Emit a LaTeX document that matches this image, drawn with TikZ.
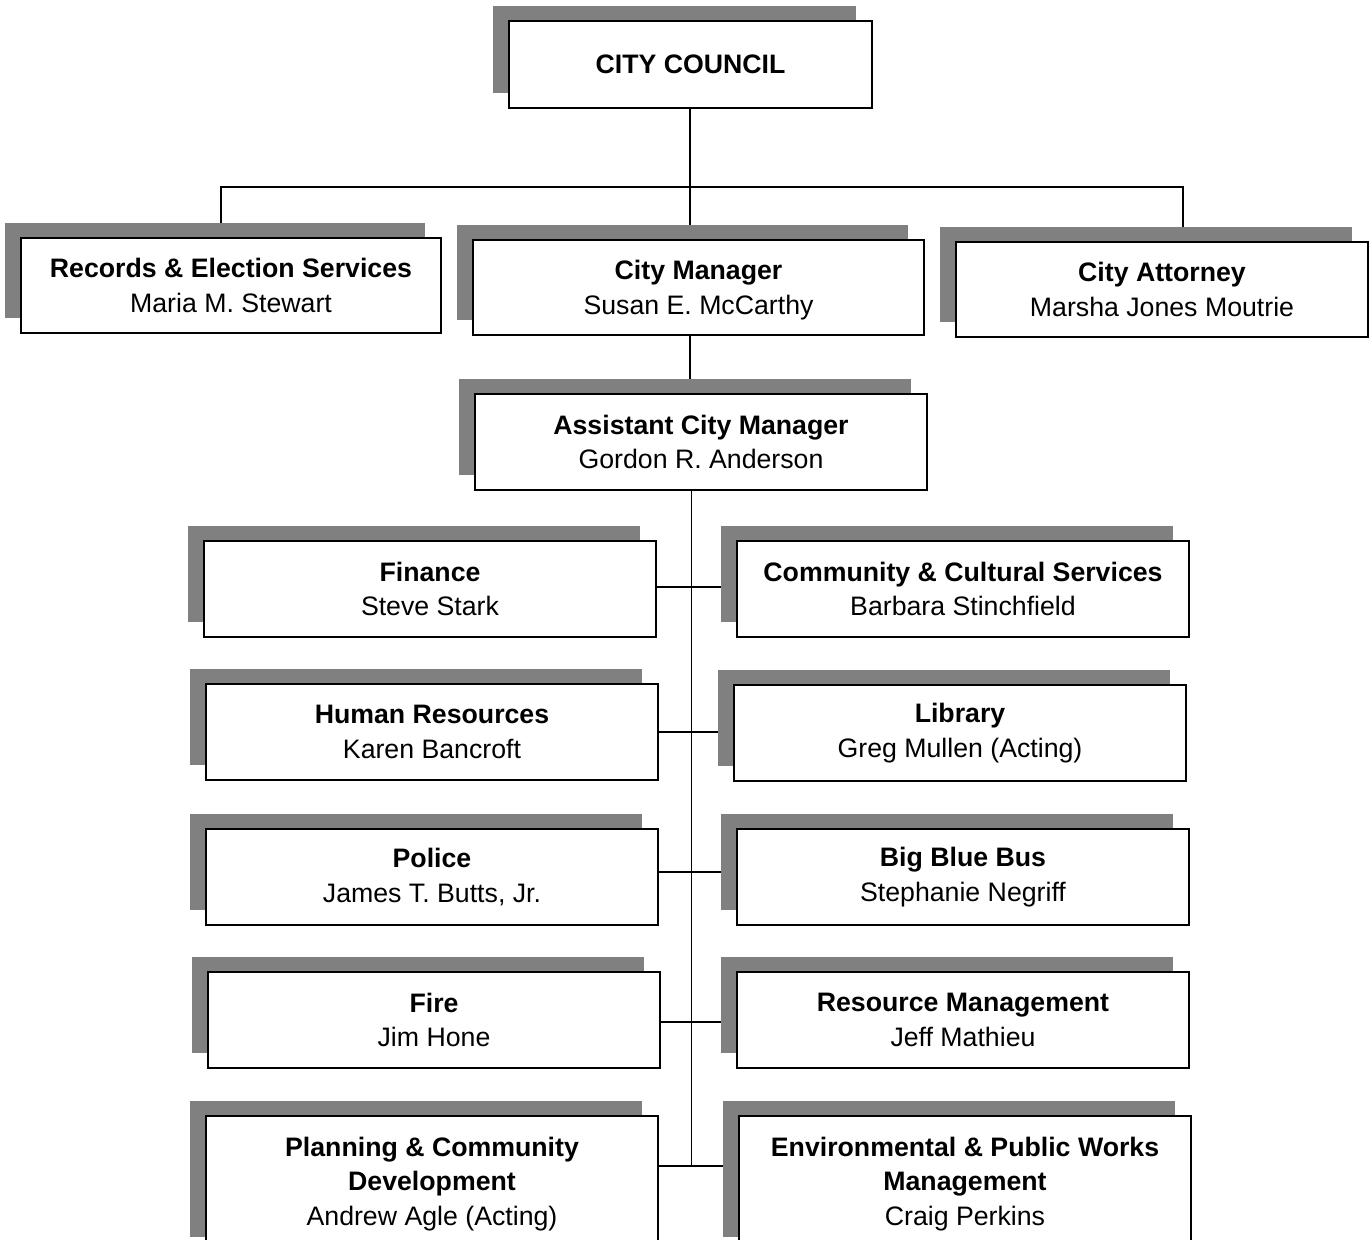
\documentclass[tikz,border=0pt]{standalone}
\usepackage{fontspec}
\setmainfont{Liberation Sans}
\usetikzlibrary{shadows,backgrounds}
\definecolor{shade}{RGB}{128,128,128}
\newcommand\nodepth[1]{\raisebox{0pt}[\height][0pt]{#1}}
\begin{document}
\begin{tikzpicture}[x=1pt,y=-1pt]
    \tikzset{
        unit/.style={draw, line width=1.6pt, fill=white, inner sep=0pt, align=center,
            minimum width=452pt, minimum height=96pt,
            font=\fontsize{26.7}{34.5}\selectfont,
            drop shadow={shadow xshift=-16pt, shadow yshift=15pt, fill=shade, opacity=1}},
        link/.style={line width=1.3pt},}
    \useasboundingbox (0,0) rectangle (1370,1239);
    % top of the chart
    \node [unit, minimum width=363pt, minimum height=87pt] (council) at (690.5,64.5) {\textbf{CITY COUNCIL}};
    \node [unit, minimum width=420pt, minimum height=95pt] (rec) at (231,285.5) {\textbf{Records \& Election Services}\\Maria M. Stewart};
    \node [unit, minimum width=451pt, minimum height=95pt] (mgr) at (698.5,287.5) {\textbf{City Manager}\\\nodepth{Susan E. McCarthy}};
    \node [unit, minimum width=412pt, minimum height=95pt] (att) at (1162,289.5) {\textbf{City Attorney}\\Marsha Jones Moutrie};
    \node [unit] (acm) at (701,442) {\textbf{Assistant City Manager}\\Gordon R. Anderson};
    % departments
    \node [unit] (fin) at (430,589) {\textbf{Finance}\\Steve Stark};
    \node [unit] (ccs) at (963,589) {\textbf{Community \& Cultural Services}\\Barbara Stinchfield};
    \node [unit] (hr) at (432,732) {\textbf{Human Resources}\\Karen Bancroft};
    \node [unit] (lib) at (960,733) {\textbf{Library}\\Greg Mullen (Acting)};
    \node [unit] (pol) at (432,877) {\textbf{Police}\\James T. Butts, Jr.};
    \node [unit] (bbb) at (963,877) {\textbf{Big Blue Bus}\\Stephanie Negriff};
    \node [unit] (fire) at (434,1020) {\textbf{Fire}\\Jim Hone};
    \node [unit] (rm) at (963,1020) {\textbf{Resource Management}\\Jeff Mathieu};
    \node [unit, minimum height=136pt] (pcd) at (432,1184) {\textbf{Planning \& Community}\\\textbf{Development}\\Andrew Agle (Acting)};
    \node [unit, minimum height=136pt] (epw) at (965,1184) {\textbf{Environmental \& Public Works}\\\textbf{Management}\\Craig Perkins};
    % connectors
    \begin{scope}[on background layer]
        \coordinate (barL) at (221,187);
        \coordinate (barR) at (1183,187);
        \coordinate (spine) at (691.5,1166);
        \draw [link] (barL |- rec.north) -- (barL) -- (barR) -- (barR |- att.north);
        \draw [link] (council.south -| 690,0) -- (mgr.north -| 690,0);
        \draw [link] (mgr.south -| 690,0) -- (acm.north -| 690,0);
        \draw [link] (acm.south -| spine) -- (spine);
        \draw [link] ([yshift=2pt]fin.east) -- ([yshift=2pt]fin.east -| ccs.west);
        \draw [link] (hr.east) -- (hr.east -| lib.west);
        \draw [link] ([yshift=5pt]pol.east) -- ([yshift=5pt]pol.east -| bbb.west);
        \draw [link] ([yshift=-2pt]fire.east) -- ([yshift=-2pt]fire.east -| rm.west);
        \draw [link] (pcd.east |- spine) -- (spine -| epw.west);
    \end{scope}
\end{tikzpicture}
\end{document}
